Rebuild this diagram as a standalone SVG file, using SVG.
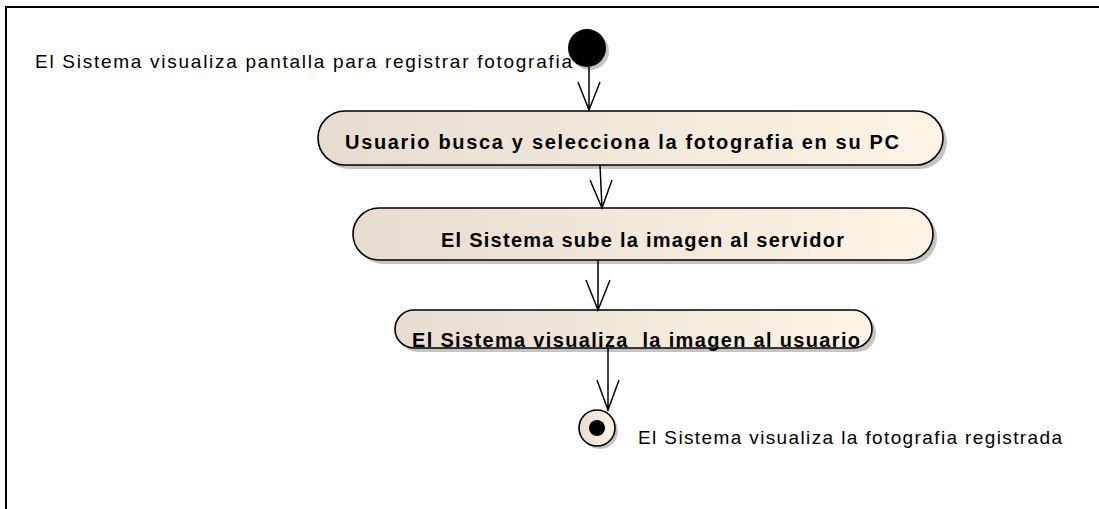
<svg xmlns="http://www.w3.org/2000/svg" width="1099" height="509" viewBox="0 0 1099 509">
<defs>
<linearGradient id="fillg" x1="0" y1="0" x2="1" y2="0">
<stop offset="0" stop-color="#e6ddd0"/>
<stop offset="1" stop-color="#fdf4e6"/>
</linearGradient>
</defs>
<style>
.shadow{fill:#c4c4c4}
.act{fill:url(#fillg);stroke:#000;stroke-width:1.6}
.lbl{font-family:"Liberation Sans",Arial,sans-serif;font-size:20px;font-weight:bold;fill:#000}
.note{font-family:"Liberation Sans",Arial,sans-serif;font-size:19px;fill:#000}
.edge{fill:none;stroke:#000;stroke-width:1.5}
</style>
<rect width="1099" height="509" fill="#fff"/>
<path d="M6,509 V7 H1099" fill="none" stroke="#000" stroke-width="2"/>
<g id="start">
<circle class="shadow" cx="590" cy="51" r="19"/>
<circle cx="587" cy="48" r="19" fill="#000"/>
<text class="note" x="35" y="68" textLength="537" lengthAdjust="spacing">El Sistema visualiza pantalla para registrar fotografia</text>
</g>
<g id="a1">
<rect class="shadow" x="322" y="115" width="625" height="54" rx="27"/>
<rect class="act" x="318" y="111" width="625" height="54" rx="27"/>
<text class="lbl" x="345" y="149" textLength="554" lengthAdjust="spacing">Usuario busca y selecciona la fotografia en su PC</text>
</g>
<g id="a2">
<rect class="shadow" x="357" y="212" width="580" height="52" rx="26"/>
<rect class="act" x="353" y="208" width="580" height="52" rx="26"/>
<text class="lbl" x="441" y="247" textLength="403" lengthAdjust="spacing">El Sistema sube la imagen al servidor</text>
</g>
<g id="a3">
<rect class="shadow" x="399" y="314" width="477" height="38" rx="19"/>
<rect class="act" x="395" y="310" width="477" height="38" rx="19"/>
<text class="lbl" x="412" y="347" textLength="448" lengthAdjust="spacing" xml:space="preserve">El Sistema visualiza  la imagen al usuario</text>
</g>
<g id="end">
<circle class="shadow" cx="600" cy="431" r="18"/>
<circle cx="597" cy="428" r="18" fill="url(#fillg)" stroke="#000" stroke-width="1.6"/>
<circle cx="597" cy="428" r="8" fill="#000"/>
<text class="note" x="638" y="444" textLength="424" lengthAdjust="spacing">El Sistema visualiza la fotografia registrada</text>
</g>
<g id="connectors">
<path class="edge" d="M589,67 V110 M578,82 L589,110 L600,82"/>
<path class="edge" d="M600,165 L602,208 M590,180 L602,208 L612,180"/>
<path class="edge" d="M598,260 V310 M586,280 L598,310 L610,280"/>
<path class="edge" d="M608,348 V410 M597,380 L608,410 L619,380"/>
</g>
</svg>
